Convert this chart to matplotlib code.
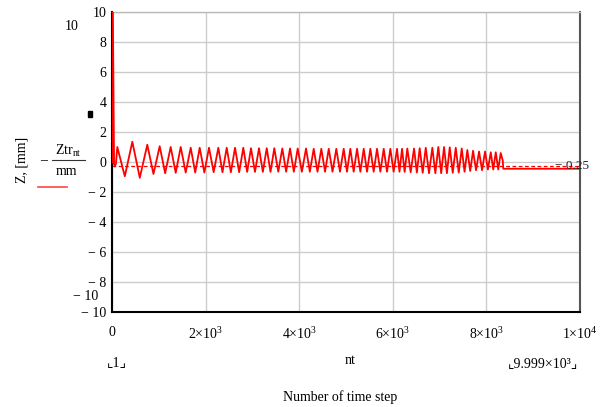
import numpy as np
import matplotlib.pyplot as plt

plt.rcParams['font.family'] = ['Liberation Serif', 'DejaVu Sans']
plt.rcParams['mathtext.fontset'] = 'custom'
plt.rcParams['mathtext.rm'] = 'Liberation Serif'

# start of the record: spike at nt=0, then settles near zero
start_nt = [0, 30, 60, 85]
start_z = [12.0, 0.0, -0.3, -0.1]

# oscillation peaks (nt, value)
peak_nt = [113, 434, 754, 1019, 1254, 1468, 1682, 1874, 2073, 2272, 2451, 2629,
           2806, 2970, 3141, 3306, 3468, 3639, 3804, 3968, 4146, 4310, 4473, 4631,
           4793, 4951, 5092, 5236, 5379, 5520, 5663, 5806, 5947, 6090, 6197, 6310,
           6454, 6575, 6704, 6845, 6973, 7095, 7217, 7345, 7473, 7593, 7715, 7843,
           7971, 8093, 8200, 8306]
peak_z = [1.0, 1.35, 1.15, 1.05, 1.0, 1.0, 0.95, 0.95, 0.95, 0.95, 0.95, 0.95,
          0.95, 0.92, 0.92, 0.92, 0.92, 0.9, 0.9, 0.9, 0.9, 0.88, 0.88, 0.88,
          0.88, 0.88, 0.88, 0.88, 0.88, 0.88, 0.88, 0.88, 0.88, 0.88, 0.88, 0.9,
          0.9, 0.92, 0.95, 0.95, 1.0, 1.0, 0.98, 0.95, 0.9, 0.8, 0.75, 0.7,
          0.7, 0.65, 0.65, 0.6]
# troughs between successive peaks
trough_nt = [274, 594, 886, 1136, 1361, 1575, 1778, 1973, 2172, 2361, 2540, 2717,
             2888, 3055, 3223, 3387, 3553, 3721, 3886, 4057, 4228, 4391, 4552, 4712,
             4872, 5021, 5164, 5307, 5449, 5591, 5734, 5876, 6018, 6143, 6253, 6382,
             6514, 6639, 6774, 6909, 7034, 7156, 7281, 7409, 7533, 7654, 7779, 7907,
             8032, 8146, 8253]
trough_z = [-0.95, -1.05, -0.8, -0.75, -0.72, -0.7, -0.7, -0.7, -0.68, -0.68, -0.68, -0.68,
            -0.66, -0.66, -0.66, -0.66, -0.65, -0.65, -0.65, -0.65, -0.65, -0.65, -0.65, -0.65,
            -0.65, -0.65, -0.65, -0.65, -0.65, -0.65, -0.65, -0.65, -0.65, -0.65, -0.66, -0.68,
            -0.7, -0.72, -0.75, -0.75, -0.75, -0.75, -0.72, -0.7, -0.65, -0.6, -0.55, -0.55,
            -0.5, -0.5, -0.5]
# after the oscillation the value stays flat
tail_nt = [8350, 8360, 9999]
tail_z = [0.1, -0.45, -0.45]

marker_z = -0.25
yticks = [10, 8, 6, 4, 2, 0, -2, -4, -6, -8, -10]
xticks = [0, 2000, 4000, 6000, 8000, 10000]
xtick_labels = ['0', r'2$\times$10$^{3}$', r'4$\times$10$^{3}$', r'6$\times$10$^{3}$',
                r'8$\times$10$^{3}$', r'1$\times$10$^{4}$']

osc = sorted(zip(peak_nt + trough_nt, peak_z + trough_z))
nt = start_nt + [p[0] for p in osc] + tail_nt
z = start_z + [p[1] for p in osc] + tail_z

fig = plt.figure(figsize=(6.08, 4.07), dpi=100)
ax = fig.add_axes([112 / 608, 1 - 312 / 407, 468 / 608, 300 / 407])

ax.plot(nt, z, color='#ff0000', lw=1.3, zorder=3)
ax.plot(start_nt[:2], start_z[:2], color='#ff0000', lw=2.2, zorder=3)
ax.axhline(marker_z, color='#ff0000', lw=0.9, ls=(0, (3, 2)), zorder=2)
ax.text(9460, marker_z, '\u2212 0.25', fontsize=9.5, va='center', ha='left', color='#222222')

ax.set_xlim(0, 10000)
ax.set_ylim(-10, 10)
ax.set_xticks(xticks)
ax.set_xticklabels(xtick_labels)
ax.set_yticks(yticks)
ax.set_yticklabels([str(v) if v >= 0 else '\u2212 ' + str(-v) for v in yticks])
ax.tick_params(length=0, labelsize=10, pad=4)
ax.tick_params(axis='x', pad=10)
ax.grid(True, color='#cccccc', lw=1.0)
ax.set_axisbelow(True)
for s in ['left', 'bottom']:
    ax.spines[s].set_color('black')
    ax.spines[s].set_linewidth(1.5)
ax.spines['right'].set_color('#555555')
ax.spines['right'].set_linewidth(1.5)
ax.spines['top'].set_color('#bbbbbb')
ax.spines['top'].set_linewidth(1.0)

def px(x, y):
    return x / 608, 1 - y / 407

fig.text(*px(72, 27), '10', fontsize=10, ha='center', va='center')
fig.text(*px(86, 296), '\u2212 10', fontsize=10, ha='center', va='center')
fig.text(*px(22, 160), 'Z, [mm]', fontsize=10, rotation=90, ha='center', va='center')
fig.text(*px(44, 161), '\u2013', fontsize=10, ha='center', va='center')
fig.text(*px(68, 151), r'Ztr$_{\mathrm{nt}}$', fontsize=10, ha='center', va='center')
fig.add_artist(plt.Line2D([52 / 608, 85 / 608], [1 - 160 / 407] * 2, color='#333333', lw=0.8))
fig.text(*px(66, 172), 'mm', fontsize=10, ha='center', va='center')
fig.add_artist(plt.Line2D([38 / 608, 67 / 608], [1 - 187 / 407] * 2, color='#ff4444', lw=1.2))
fig.add_artist(plt.Rectangle(px(88, 117), 4 / 608, 6 / 407, color='black'))

fig.text(*px(117, 363), '\u231e1\u231f', fontsize=10, ha='center', va='center')
fig.text(*px(350, 361), 'nt', fontsize=10, ha='center', va='center')
fig.text(*px(543, 364), '\u231e9.999\u00d710\u00b3\u231f', fontsize=10, ha='center', va='center')
fig.text(*px(340, 397), 'Number of time step', fontsize=10, ha='center', va='center')

fig.savefig('out.png', dpi=100)
